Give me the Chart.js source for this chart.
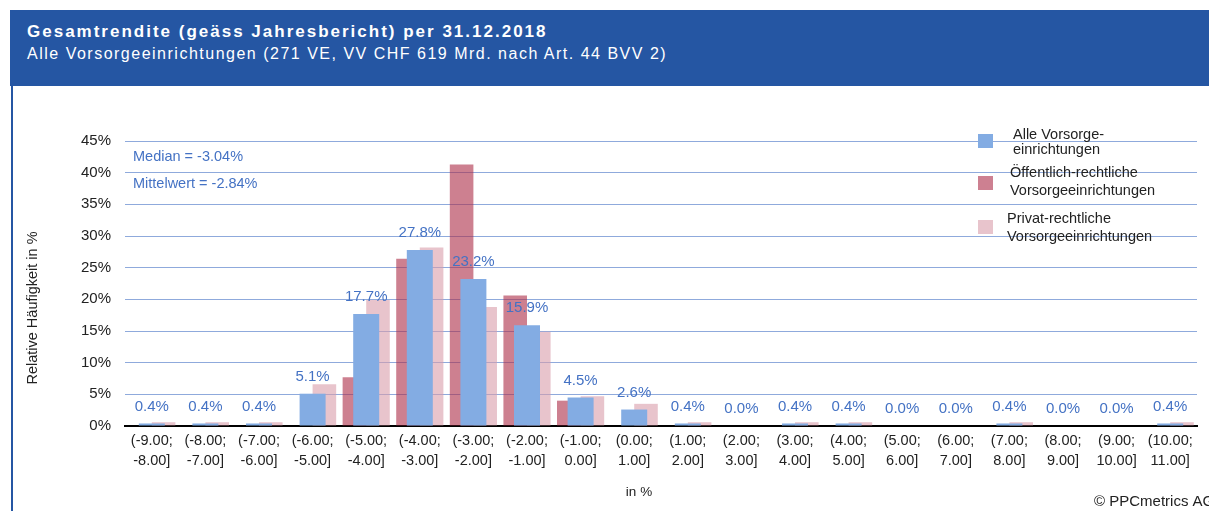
<!DOCTYPE html>
<html>
<head>
<meta charset="utf-8">
<script src="https://cdn.jsdelivr.net/npm/chart.js@4"></script>
<style>
  body { margin: 0; background: #fff; font-family: "Liberation Sans", Arial, sans-serif; }
  #kopf { position: absolute; left: 10px; top: 10px; width: 1199px; height: 76px; background: #2556a3; color: #fff; }
  #titel { position: absolute; left: 17px; top: 12px; font-size: 17px; font-weight: bold; letter-spacing: 2px; white-space: nowrap; }
  #untertitel { position: absolute; left: 17px; top: 35px; font-size: 16px; letter-spacing: 1.5px; white-space: nowrap; }
  #rand { position: absolute; left: 11px; top: 86px; width: 2px; height: 425px; background: #2556a3; }
  #grafica { position: absolute; left: 0; top: 0; }
</style>
</head>
<body>
<canvas id="grafica" width="1209" height="511"></canvas>
<div id="kopf">
  <div id="titel">Gesamtrendite (geäss Jahresbericht) per 31.12.2018</div>
  <div id="untertitel">Alle Vorsorgeeinrichtungen (271 VE, VV CHF 619 Mrd. nach Art. 44 BVV 2)</div>
</div>
<div id="rand"></div>
<script>
// Kategorien (Renditeklassen in %)
const kategorien = [
  ["(-9.00;", "-8.00]"], ["(-8.00;", "-7.00]"], ["(-7.00;", "-6.00]"], ["(-6.00;", "-5.00]"],
  ["(-5.00;", "-4.00]"], ["(-4.00;", "-3.00]"], ["(-3.00;", "-2.00]"], ["(-2.00;", "-1.00]"],
  ["(-1.00;", "0.00]"], ["(0.00;", "1.00]"], ["(1.00;", "2.00]"], ["(2.00;", "3.00]"],
  ["(3.00;", "4.00]"], ["(4.00;", "5.00]"], ["(5.00;", "6.00]"], ["(6.00;", "7.00]"],
  ["(7.00;", "8.00]"], ["(8.00;", "9.00]"], ["(9.00;", "10.00]"], ["(10.00;", "11.00]"]
];

const alle = [0.4, 0.4, 0.4, 5.1, 17.7, 27.8, 23.2, 15.9, 4.5, 2.6, 0.4, 0.0, 0.4, 0.4, 0.0, 0.0, 0.4, 0.0, 0.0, 0.4];
const oeffentlich = [0, 0, 0, 0, 7.7, 26.4, 41.3, 20.6, 4.0, 0, 0, 0, 0, 0, 0, 0, 0, 0, 0, 0];
const privat = [0.6, 0.6, 0.6, 6.6, 19.9, 28.2, 18.8, 14.9, 4.7, 3.5, 0.6, 0, 0.6, 0.6, 0, 0, 0.6, 0, 0, 0.6];

const yTicks = [0, 5, 10, 15, 20, 25, 30, 35, 40, 45];

const legende = [
  { farbe: "#83ace3", zeilen: ["Alle Vorsorge-", "einrichtungen"] },
  { farbe: "#cd8091", zeilen: ["Öffentlich-rechtliche", "Vorsorgeeinrichtungen"] },
  { farbe: "#e8c4cc", zeilen: ["Privat-rechtliche", "Vorsorgeeinrichtungen"] }
];

const blau = "#4472c4";
const fam = "'Liberation Sans', Arial, sans-serif";

const extras = {
  id: "extras",
  afterDatasetsDraw(chart) {
    const c = chart.ctx;
    c.save();
    c.font = "15px " + fam;
    c.fillStyle = blau;
    c.textAlign = "center";
    c.textBaseline = "middle";
    const meta = chart.getDatasetMeta(0);
    meta.data.forEach((bar, i) => {
      c.fillText(alle[i].toFixed(1) + "%", bar.x, bar.y - 17);
    });

    // Median / Mittelwert
    c.textAlign = "left";
    c.font = "14.5px " + fam;
    c.fillText("Median = -3.04%", 133, 157);
    c.fillText("Mittelwert = -2.84%", 133, 184);

    // Legende
    const pos = [
      { q: 134, t: [135, 150], tx: 1013 },
      { q: 176, t: [173, 191], tx: 1010 },
      { q: 220, t: [219, 237], tx: 1007 }
    ];
    legende.forEach((l, i) => {
      c.fillStyle = l.farbe;
      c.fillRect(978, pos[i].q, 15, 14);
      c.fillStyle = "#222";
      l.zeilen.forEach((z, k) => c.fillText(z, pos[i].tx, pos[i].t[k]));
    });

    // Achsentitel
    c.fillStyle = "#222";
    c.textAlign = "center";
    c.font = "13.5px " + fam;
    c.fillText("in %", 639, 492);
    c.save();
    c.translate(33, 308);
    c.rotate(-Math.PI / 2);
    c.font = "14.5px " + fam;
    c.fillText("Relative Häufigkeit in %", 0, 0);
    c.restore();
    c.textAlign = "left";
    c.font = "15px " + fam;
    c.fillText("© PPCmetrics AG", 1094, 502);
    c.restore();
  }
};

new Chart(document.getElementById("grafica"), {
  type: "bar",
  data: {
    labels: kategorien,
    datasets: [
      {
        label: "Alle Vorsorgeeinrichtungen",
        data: alle,
        backgroundColor: "#83ace3",
        grouped: false,
        order: 0,
        categoryPercentage: 0.485,
        barPercentage: 1
      },
      {
        label: "Öffentlich-rechtliche Vorsorgeeinrichtungen",
        data: oeffentlich,
        backgroundColor: "rgba(172,43,70,0.6)",
        order: 1,
        categoryPercentage: 0.88,
        barPercentage: 1
      },
      {
        label: "Privat-rechtliche Vorsorgeeinrichtungen",
        data: privat,
        backgroundColor: "rgba(217,157,170,0.6)",
        order: 1,
        categoryPercentage: 0.88,
        barPercentage: 1
      }
    ]
  },
  options: {
    responsive: false,
    animation: false,
    layout: { padding: { top: 141, right: 12, left: 0, bottom: 0 } },
    plugins: { legend: { display: false }, tooltip: { enabled: false } },
    scales: {
      x: {
        grid: { display: false, drawTicks: false },
        border: { color: "#000", width: 2 },
        ticks: {
          color: "#222",
          font: { family: fam, size: 14.5, lineHeight: 1.4 },
          padding: 5,
          maxRotation: 0,
          autoSkip: false
        },
        afterFit(s) { s.height = 85; }
      },
      y: {
        min: 0,
        max: 45,
        afterBuildTicks(s) { s.ticks = yTicks.map(v => ({ value: v })); },
        grid: { color: "#8faadc", lineWidth: 1, drawTicks: false },
        border: { display: false },
        ticks: {
          color: "#222",
          font: { family: fam, size: 15 },
          padding: 14,
          callback: v => v + "%"
        },
        afterFit(s) { s.width = 125; }
      }
    }
  },
  plugins: [extras]
});
</script>
</body>
</html>
